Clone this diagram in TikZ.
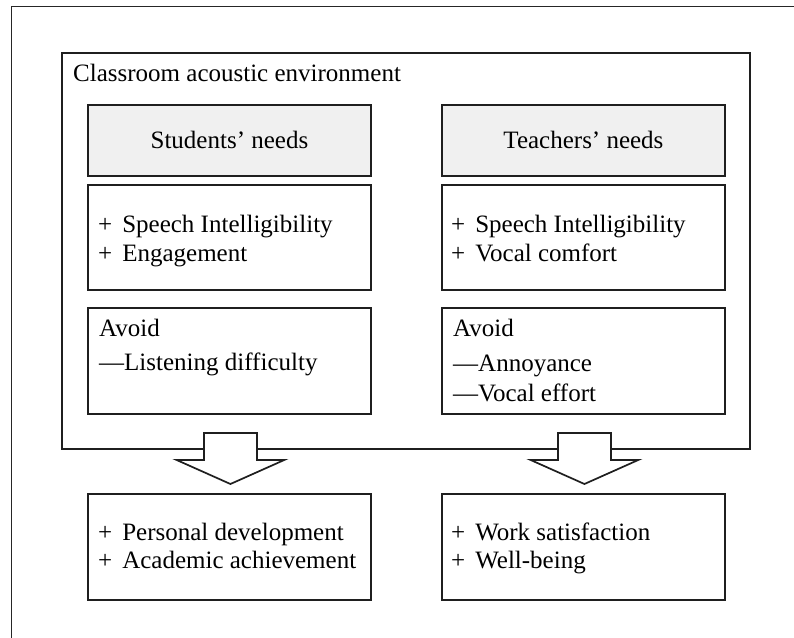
\documentclass[tikz,border=0pt]{standalone}
\usepackage{fontspec}
\setmainfont{Liberation Serif}
\usetikzlibrary{calc}
\newcommand{\plus}{+\hspace{0.4em}}
\newcommand{\minus}{—}
\begin{document}
\begin{tikzpicture}[x=1pt,y=-1pt,
  box/.style={draw=black!88, line width=1.9pt, minimum width=283pt,
    anchor=north west, inner sep=0pt},
  headbox/.style={box, fill=black!6},
  txt/.style={anchor=base west, inner sep=0pt,
    font=\fontsize{25}{29}\selectfont},
  ctxt/.style={txt, anchor=base},
  bigarrow/.style={draw=black!88, line width=1.7pt, fill=white,
    line join=miter}]
\useasboundingbox (0,0) rectangle (794,637);

% page frame
\coordinate (frameBL) at (11.5,640);
\coordinate (frameTL) at (11.5,6.5);
\coordinate (frameTR) at (797,6.5);
\draw[line width=1.6pt, black!85] (frameBL) -- (frameTL) -- (frameTR);

% environment box
\node[box, minimum width=688pt, minimum height=396pt] (env) at (61,52) {};
\node[txt] (envlabel) at (73,81) {Classroom acoustic environment};

% students column
\node[headbox, minimum height=71pt] (shead) at (87,104) {};
\node[ctxt] (sheadtxt) at (shead.center |- 0,148) {Students’ needs};
\node[box, minimum height=105pt] (sneed) at (87,184) {};
\node[txt] (sneed1) at (98,232) {\plus Speech Intelligibility};
\node[txt] (sneed2) at (98,261) {\plus Engagement};
\node[box, minimum height=106pt] (savoid) at (87,307) {};
\node[txt] (savoid0) at (99,336) {Avoid};
\node[txt] (savoid1) at (99,370) {\minus Listening difficulty};
\node[box, minimum height=106pt] (sout) at (87,493) {};
\node[txt] (sout1) at (98,540) {\plus Personal development};
\node[txt] (sout2) at (98,568) {\plus Academic achievement};

% teachers column
\node[headbox, minimum height=71pt] (thead) at (441,104) {};
\node[ctxt] (theadtxt) at (thead.center |- 0,148) {Teachers’ needs};
\node[box, minimum height=105pt] (tneed) at (441,184) {};
\node[txt] (tneed1) at (451,232) {\plus Speech Intelligibility};
\node[txt] (tneed2) at (451,261) {\plus Vocal comfort};
\node[box, minimum height=106pt] (tavoid) at (441,307) {};
\node[txt] (tavoid0) at (453,336) {Avoid};
\node[txt] (tavoid1) at (453,371) {\minus Annoyance};
\node[txt] (tavoid2) at (453,401) {\minus Vocal effort};
\node[box, minimum height=106pt] (tout) at (441,493) {};
\node[txt] (tout1) at (451,540) {\plus Work satisfaction};
\node[txt] (tout2) at (451,568) {\plus Well-being};

% block arrows from the environment to the outcomes
\foreach \src/\dst in {savoid/sout, tavoid/tout}{
  \coordinate (c) at ($(\dst.north)+(1,0)$);
  \coordinate (top) at (c |- env.south);
  \draw[bigarrow]
    ($(top)+(-26.5,-17)$) -- ($(top)+(26.5,-17)$) -- ($(top)+(26.5,10)$)
    -- ($(top)+(54,10)$) -- ($(c)+(0,-9)$) -- ($(top)+(-54,10)$)
    -- ($(top)+(-26.5,10)$) -- cycle;
}
\end{tikzpicture}
\end{document}
